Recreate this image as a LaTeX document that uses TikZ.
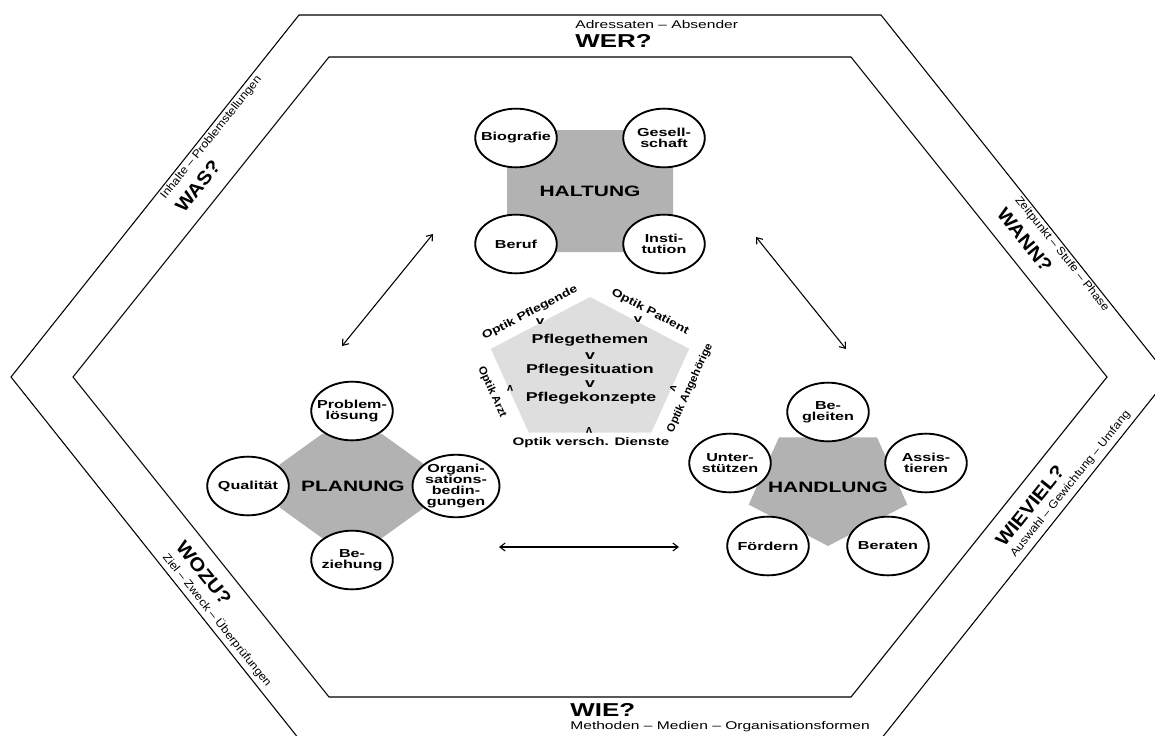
\documentclass[tikz,border=0pt]{standalone}
\usepackage{fontspec}
\setmainfont{Liberation Sans}
\usetikzlibrary{arrows.meta}
\newcommand\mysub{\fontsize{8.4pt}{9pt}\selectfont}
\newcommand\mybig{\bfseries\fontsize{14pt}{16pt}\selectfont}
\newcommand\mybub{\bfseries\fontsize{8.7pt}{8.3pt}\selectfont}
\newcommand\myclu{\bfseries\fontsize{11.3pt}{13pt}\selectfont}
\newcommand\mypfl{\bfseries\fontsize{9.6pt}{11pt}\selectfont}
\newcommand\myopt{\bfseries\fontsize{8.2pt}{9pt}\selectfont}
\begin{document}
\begin{tikzpicture}[x=0.75pt,y=-0.75pt,
  hexline/.style={line width=0.8pt},
  txt/.style={inner sep=0pt},
  wide/.style={xscale=1.39},
  sub/.style={txt, font=\mysub, anchor=west},
  big/.style={txt, font=\mybig, anchor=west},
  bub/.style={circle, draw, line width=1.4pt, fill=white, minimum size=44pt,
    inner sep=0pt, align=center, font=\mybub, xscale=1.39},
  clu/.style={txt, font=\myclu, wide},
  pfl/.style={txt, font=\mypfl, wide},
  opt/.style={txt, font=\myopt},
  dbl/.style={line width=0.8pt,
    {Straight Barb[length=4pt,width=6pt]}-{Straight Barb[length=4pt,width=6pt]}},
  blob/.style={fill=black!30, draw=none},
  penta/.style={fill=black!13, draw=none},
]
\useasboundingbox (0,0) rectangle (1155,735);
\clip (0,0) rectangle (1155,735);

% hexagon frames
\draw[hexline] (299,15) -- (881,15) -- (1169,377) -- (881,739) -- (299,739) -- (11,377) -- cycle;
\draw[hexline] (329,57) -- (851,57) -- (1107,377) -- (851,697) -- (329,697) -- (73,377) -- cycle;

% band labels
\node[sub, wide] (adr) at (575,24) {Adressaten – Absender};
\node[big, wide] (wer) at (575,41) {WER?};
\node[sub, rotate=51.3, xscale=1.11] (inh) at (163,198) {Inhalte – Problemstellungen};
\node[big, rotate=51.3, xscale=1.11] (was) at (179,210) {WAS?};
\node[sub, rotate=-51.3, xscale=1.11] (zei) at (1017,198) {Zeitpunkt – Stufe – Phase};
\node[big, rotate=-51.3, xscale=1.11] (wann) at (1001,210) {WANN?};
\node[sub, rotate=51.3, xscale=1.11] (ausw) at (1013,556) {Auswahl – Gewichtung – Umfang};
\node[big, rotate=51.3, xscale=1.11] (wiev) at (999,544) {WIEVIEL?};
\node[sub, rotate=-51.3, xscale=1.11] (ziel) at (165,555) {Ziel – Zweck – Überprüfungen};
\node[big, rotate=-51.3, xscale=1.11] (wozu) at (180,543) {WOZU?};
\node[big, wide] (wie) at (570,710) {WIE?};
\node[sub, wide] (meth) at (570,727) {Methoden – Medien – Organisationsformen};

% HALTUNG cluster
\fill[blob, rounded corners=6pt] (507,130) rectangle (673,252);
\node[bub] (bio) at (516,138) {Biografie};
\node[bub] (ges) at (664,138) {Gesell-\\schaft};
\node[bub] (ber) at (516,244) {Beruf};
\node[bub] (ins) at (664,244) {Insti-\\tution};
\node[clu] (hal) at (590,191) {HALTUNG};

% PLANUNG cluster
\fill[blob, shift={(352,486)}, xscale=1.39]
  (22.5:56.3) -- (67.5:56.3) -- (112.5:56.3) -- (157.5:56.3) -- (202.5:56.3)
  -- (247.5:56.3) -- (292.5:56.3) -- (337.5:56.3) -- cycle;
\node[bub] (prob) at (352,411) {Problem-\\lösung};
\node[bub] (qual) at (248,486) {Qualität};
\node[bub] (orga) at (456,486) {Organi-\\sations-\\bedin-\\gungen};
\node[bub] (bez) at (352,560) {Be-\\ziehung};
\node[clu] (plan) at (353,486) {PLANUNG};

% HANDLUNG cluster
\fill[blob, shift={(828,486)}, xscale=1.39]
  (90:60) -- (162:60) -- (234:60) -- (306:60) -- (18:60) -- cycle;
\node[bub] (begl) at (828,412) {Be-\\gleiten};
\node[bub] (assi) at (926,463) {Assis-\\tieren};
\node[bub] (bera) at (888,546) {Beraten};
\node[bub] (foer) at (768,546) {Fördern};
\node[bub] (unte) at (730,463) {Unter-\\stützen};
\node[clu] (hand) at (828,487) {HANDLUNG};

% central pentagon
\fill[penta, shift={(590,372)}, xscale=1.39]
  (-90:75) -- (-18:75) -- (54:75) -- (126:75) -- (198:75) -- cycle;
\node[pfl] (pth) at (590,340) {Pflegethemen};
\node[pfl] (v1) at (590,356) {v};
\node[pfl] (psi) at (590,370) {Pflegesituation};
\node[pfl] (v2) at (590,384) {v};
\node[pfl] (pko) at (591,398) {Pflegekonzepte};
\node[opt, rotate=27.6, xscale=1.27] (opf) at (530,313) {Optik Pflegende};
\node[opt, rotate=-27.6, xscale=1.27] (opa) at (650,312) {Optik Patient};
\node[opt, rotate=65.7, xscale=1.05] (oan) at (690,388) {Optik Angehörige};
\node[opt, rotate=-65.7, xscale=1.05] (oar) at (492,392) {Optik Arzt};
\node[opt, wide] (ovd) at (591,443) {Optik versch. Dienste};
\node[opt, wide] (c1) at (540,322) {v};
\node[opt, wide] (c2) at (638,320) {v};
\node[opt, rotate=180] (c3) at (510,388) {v};
\node[opt, rotate=-110] (c4) at (673,388) {v};
\node[opt, rotate=180] (c5) at (589,430) {v};

% arrows
\coordinate (a1s) at (342,346); \coordinate (a1e) at (433,234);
\coordinate (a2s) at (756,237); \coordinate (a2e) at (846,349);
\coordinate (a3s) at (499,547); \coordinate (a3e) at (679,547);
\draw[dbl] (a1s) -- (a1e);
\draw[dbl] (a2s) -- (a2e);
\draw[dbl] (a3s) -- (a3e);
\end{tikzpicture}
\end{document}
